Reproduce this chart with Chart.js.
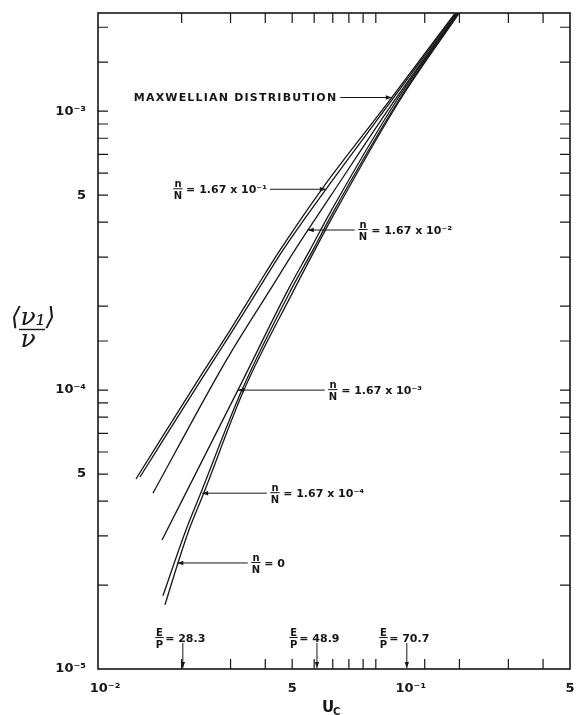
<!DOCTYPE html>
<html>
<head>
<meta charset="utf-8">
<script src="https://cdn.jsdelivr.net/npm/chart.js@4"></script>
<style>
html, body { margin: 0; padding: 0; background: #fff; }
</style>
</head>
<body>
<canvas id="uc" width="577" height="715"></canvas>
<script>
// u_c values and <nu_1>/nu for each curve
var uMaxwell = [0.0137, 0.0229, 0.0299, 0.0367, 0.0452, 0.0639, 0.1123, 0.1924];
var rMaxwell = [4.80e-5, 1.086e-4, 1.641e-4, 2.283e-4, 3.176e-4, 5.25e-4, 1.095e-3, 2.24e-3];

var uN1 = [0.01416, 0.02347, 0.0306, 0.03763, 0.0463, 0.0661, 0.1142, 0.194];
var rN1 = [4.88e-5, 1.086e-4, 1.641e-4, 2.283e-4, 3.176e-4, 5.25e-4, 1.095e-3, 2.24e-3];

var uN2 = [0.01577, 0.02636, 0.03, 0.04156, 0.05112, 0.05694, 0.06831, 0.117, 0.1956];
var rN2 = [4.27e-5, 1.086e-4, 1.357e-4, 2.283e-4, 3.176e-4, 3.746e-4, 4.92e-4, 1.095e-3, 2.24e-3];

var uN3 = [0.0170, 0.03189, 0.04825, 0.0579, 0.06831, 0.119, 0.1972];
var rN3 = [2.90e-5, 1.0e-4, 2.283e-4, 3.176e-4, 4.31e-4, 1.095e-3, 2.24e-3];

var uN4 = [0.01713, 0.02073, 0.02327, 0.03296, 0.04946, 0.05935, 0.06831, 0.121, 0.1972];
var rN4 = [1.83e-5, 3.15e-5, 4.20e-5, 1.0e-4, 2.283e-4, 3.176e-4, 4.136e-4, 1.095e-3, 2.24e-3];

var uN0 = [0.01742, 0.0194, 0.02125, 0.02386, 0.03351, 0.0507, 0.0603, 0.06946, 0.122, 0.1989];
var rN0 = [1.70e-5, 2.40e-5, 3.15e-5, 4.20e-5, 1.0e-4, 2.283e-4, 3.176e-4, 4.136e-4, 1.095e-3, 2.24e-3];

// E/P markers along the u_c axis
var epValues = ['28.3', '48.9', '70.7'];
var epU = [0.0202, 0.0614, 0.1293];

// labelled tick values
var xTickValues = [0.01, 0.05, 0.1, 0.5];
var yTickValues = [1e-5, 5e-5, 1e-4, 5e-4, 1e-3];

function sup(s) {
  return s.replace(/[-0-9]/g, function (c) { return '⁻⁰¹²³⁴⁵⁶⁷⁸⁹'['-0123456789'.indexOf(c)]; });
}
function tickText(v) {
  var e = Math.log10(v), k = Math.round(e);
  if (Math.abs(e - k) < 1e-6) return '10' + sup(String(k));
  return String(Math.round(v / Math.pow(10, Math.floor(e + 1e-9))));
}
function pts(u, r) {
  return u.map(function (v, i) { return { x: v, y: r[i] }; });
}

// callouts: arrow tip on a curve (data coords), far end of the leader (u), side of the text
var callouts = [
  { text: 'MAXWELLIAN DISTRIBUTION', frac: false, tip: [0.1142, 1.12e-3], tail: 0.0745, side: 'left' },
  { text: '= 1.67 x 10' + sup('-1'), frac: true, tip: [0.0661, 5.25e-4], tail: 0.0416, side: 'left' },
  { text: '= 1.67 x 10' + sup('-2'), frac: true, tip: [0.0569, 3.75e-4], tail: 0.0840, side: 'right' },
  { text: '= 1.67 x 10' + sup('-3'), frac: true, tip: [0.0319, 1.0e-4], tail: 0.0655, side: 'right' },
  { text: '= 1.67 x 10' + sup('-4'), frac: true, tip: [0.0237, 4.27e-5], tail: 0.0405, side: 'right' },
  { text: '= 0', frac: true, tip: [0.0193, 2.40e-5], tail: 0.0346, side: 'right' }
];

var INK = '#161616';
var FONT = '"DejaVu Sans", sans-serif';
var xLabelNudge = [7, 0, 35, 0];

function arrowHead(ctx, x, y, dx, dy) {
  var len = Math.hypot(dx, dy), ux = dx / len, uy = dy / len;
  ctx.beginPath();
  ctx.moveTo(x, y);
  ctx.lineTo(x - ux * 6 - uy * 2.2, y - uy * 6 + ux * 2.2);
  ctx.lineTo(x - ux * 6 + uy * 2.2, y - uy * 6 - ux * 2.2);
  ctx.closePath();
  ctx.fill();
}

function fraction(ctx, top, bottom, x, cy) {
  // x = left edge, returns width
  ctx.font = 'bold 10px ' + FONT;
  var w = Math.max(ctx.measureText(top).width, ctx.measureText(bottom).width);
  ctx.textAlign = 'center';
  ctx.textBaseline = 'alphabetic';
  ctx.fillText(top, x + w / 2, cy - 2);
  ctx.fillText(bottom, x + w / 2, cy + 10);
  ctx.beginPath();
  ctx.moveTo(x - 0.5, cy - 0.5);
  ctx.lineTo(x + w + 0.5, cy - 0.5);
  ctx.lineWidth = 1;
  ctx.stroke();
  return w;
}

var ink = {
  id: 'ink',
  afterDraw: function (chart) {
    var ctx = chart.ctx, a = chart.chartArea, xs = chart.scales.x, ys = chart.scales.y;
    ctx.save();
    ctx.strokeStyle = INK;
    ctx.fillStyle = INK;

    // frame
    ctx.lineWidth = 1.6;
    ctx.strokeRect(a.left, a.top, a.right - a.left, a.bottom - a.top);

    // inward tick marks on all four sides
    ctx.lineWidth = 1.2;
    ctx.beginPath();
    xs.ticks.forEach(function (t) {
      var p = xs.getPixelForValue(t.value);
      if (p <= a.left + 1 || p >= a.right - 1) return;
      ctx.moveTo(p, a.bottom); ctx.lineTo(p, a.bottom - 10);
      ctx.moveTo(p, a.top); ctx.lineTo(p, a.top + 10);
    });
    ys.ticks.forEach(function (t) {
      var p = ys.getPixelForValue(t.value);
      if (p <= a.top + 1 || p >= a.bottom - 1) return;
      ctx.moveTo(a.left, p); ctx.lineTo(a.left + 10, p);
      ctx.moveTo(a.right, p); ctx.lineTo(a.right - 10, p);
    });
    ctx.stroke();

    // x tick labels
    ctx.font = 'bold 13px ' + FONT;
    ctx.textAlign = 'center';
    ctx.textBaseline = 'middle';
    xTickValues.forEach(function (v, i) {
      ctx.fillText(tickText(v), xs.getPixelForValue(v) + xLabelNudge[i], a.bottom + 20);
    });

    // axis titles
    ctx.font = 'bold 15px ' + FONT;
    ctx.textAlign = 'left';
    ctx.textBaseline = 'alphabetic';
    ctx.fillText('U', 322, a.bottom + 43);
    ctx.font = 'bold 10px ' + FONT;
    ctx.fillText('C', 333, a.bottom + 46);

    ctx.font = 'italic 25px "DejaVu Serif", serif';
    ctx.textAlign = 'center';
    ctx.fillText('⟨ν₁⟩', 33, 325);
    ctx.fillText('ν', 28, 347);
    ctx.lineWidth = 1.4;
    ctx.beginPath();
    ctx.moveTo(19, 329.5); ctx.lineTo(45, 329.5);
    ctx.stroke();

    // callouts with leaders
    callouts.forEach(function (c) {
      var tx = xs.getPixelForValue(c.tip[0]), ty = ys.getPixelForValue(c.tip[1]);
      var ex = xs.getPixelForValue(c.tail);
      ctx.lineWidth = 1;
      ctx.beginPath();
      ctx.moveTo(ex, ty); ctx.lineTo(tx, ty);
      ctx.stroke();
      arrowHead(ctx, tx, ty, tx - ex, 0);

      ctx.font = 'bold 11px ' + FONT;
      ctx.letterSpacing = c.frac ? '0px' : '1.2px';
      var tw = ctx.measureText(c.text).width;
      ctx.letterSpacing = '0px';
      var fw = 0;
      if (c.frac) { ctx.font = 'bold 10px ' + FONT; fw = ctx.measureText('N').width + 4; }
      var x0 = c.side === 'left' ? ex - 3 - tw - fw : ex + 4;
      if (c.frac) fraction(ctx, 'n', 'N', x0, ty);
      ctx.font = 'bold 11px ' + FONT;
      ctx.letterSpacing = c.frac ? '0px' : '1.2px';
      ctx.textAlign = 'left';
      ctx.textBaseline = 'middle';
      ctx.fillText(c.text, x0 + fw, ty + 1);
      ctx.letterSpacing = '0px';
    });

    // E/P markers
    epU.forEach(function (u, i) {
      var p = xs.getPixelForValue(u);
      ctx.lineWidth = 1;
      ctx.beginPath();
      ctx.moveTo(p, a.bottom - 26); ctx.lineTo(p, a.bottom - 1);
      ctx.stroke();
      arrowHead(ctx, p, a.bottom - 1, 0, 1);
      var x0 = p - 27;
      var fw = fraction(ctx, 'E', 'P', x0, a.bottom - 31);
      ctx.font = 'bold 11px ' + FONT;
      ctx.textAlign = 'left';
      ctx.textBaseline = 'middle';
      ctx.fillText('= ' + epValues[i], x0 + fw + 2, a.bottom - 30);
    });

    ctx.restore();
  }
};

function series(label, u, r) {
  return {
    label: label,
    data: pts(u, r),
    borderColor: INK,
    borderWidth: 1.3,
    pointRadius: 0,
    cubicInterpolationMode: 'monotone',
    fill: false
  };
}

new Chart(document.getElementById('uc').getContext('2d'), {
  type: 'line',
  data: {
    datasets: [
      series('Maxwellian distribution', uMaxwell, rMaxwell),
      series('n/N = 1.67 x 10^-1', uN1, rN1),
      series('n/N = 1.67 x 10^-2', uN2, rN2),
      series('n/N = 1.67 x 10^-3', uN3, rN3),
      series('n/N = 1.67 x 10^-4', uN4, rN4),
      series('n/N = 0', uN0, rN0)
    ]
  },
  options: {
    responsive: false,
    animation: false,
    layout: { padding: { top: 13, right: 7, left: 0, bottom: 0 } },
    plugins: { legend: { display: false }, tooltip: { enabled: false } },
    scales: {
      x: {
        type: 'logarithmic',
        min: 0.01,
        max: 0.5,
        grid: { display: false, drawTicks: false },
        border: { display: false },
        ticks: { display: false, autoSkip: false },
        afterFit: function (s) { s.height = 46; }
      },
      y: {
        type: 'logarithmic',
        min: 1e-5,
        max: 2.25e-3,
        grid: { display: false, drawTicks: false },
        border: { display: false },
        ticks: {
          autoSkip: false,
          padding: 12,
          color: INK,
          font: { family: 'DejaVu Sans', size: 13, weight: 'bold' },
          callback: function (v) {
            for (var i = 0; i < yTickValues.length; i++) {
              if (Math.abs(v / yTickValues[i] - 1) < 1e-6) return tickText(v);
            }
            return '';
          }
        },
        afterFit: function (s) { s.width = 98; s.paddingTop = 0; s.paddingBottom = 0; }
      }
    }
  },
  plugins: [ink]
});
</script>
</body>
</html>
